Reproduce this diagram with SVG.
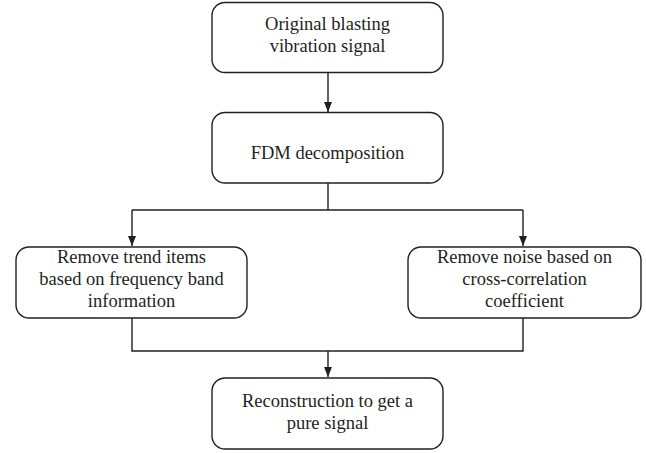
<svg xmlns="http://www.w3.org/2000/svg" width="646" height="453" viewBox="0 0 646 453">
<defs>
<marker id="arr" markerWidth="8" markerHeight="10" refX="4" refY="10" orient="auto-start-reverse" markerUnits="userSpaceOnUse" viewBox="0 0 8 10">
<path d="M0,0 L8,0 L4,10 Z" fill="#231f20" transform="rotate(0)"/>
</marker>
</defs>
<style>
.box{fill:#fff;stroke:#231f20;stroke-width:1.4}
.t{font-family:"Liberation Serif","Times New Roman",serif;font-size:18.5px;fill:#231f20;text-anchor:middle}
.c{fill:none;stroke:#231f20;stroke-width:1.4}
</style>
<rect width="646" height="453" fill="#fff"/>
<g id="connectors">
<line class="c" x1="328" y1="72" x2="328" y2="112"/>
<path d="M324,102 L332,102 L328,112 Z" fill="#231f20"/>
<polyline class="c" points="328,183 328,210"/>
<line class="c" x1="132" y1="210" x2="523" y2="210"/>
<line class="c" x1="132" y1="210" x2="132" y2="246"/>
<path d="M128,236 L136,236 L132,246 Z" fill="#231f20"/>
<line class="c" x1="523" y1="210" x2="523" y2="246"/>
<path d="M519,236 L527,236 L523,246 Z" fill="#231f20"/>
<polyline class="c" points="132,318 132,351 523,351 523,318"/>
<line class="c" x1="328" y1="351" x2="328" y2="377"/>
<path d="M324,367 L332,367 L328,377 Z" fill="#231f20"/>
</g>
<g id="n1">
<rect class="box" x="212" y="2.5" width="231" height="70" rx="13"/>
<text class="t" x="327.5" y="30">Original blasting</text>
<text class="t" x="327.5" y="52">vibration signal</text>
</g>
<g id="n2">
<rect class="box" x="212" y="112.5" width="231" height="70.5" rx="13"/>
<text class="t" x="327.5" y="159">FDM decomposition</text>
</g>
<g id="n3">
<rect class="box" x="16" y="247" width="231" height="71" rx="13"/>
<text class="t" x="131.5" y="263">Remove trend items</text>
<text class="t" x="131.5" y="285">based on frequency band</text>
<text class="t" x="131.5" y="307">information</text>
</g>
<g id="n4">
<rect class="box" x="408" y="247" width="233" height="71" rx="13"/>
<text class="t" x="524.5" y="263">Remove noise based on</text>
<text class="t" x="524.5" y="285">cross-correlation</text>
<text class="t" x="524.5" y="307">coefficient</text>
</g>
<g id="n5">
<rect class="box" x="212" y="378" width="231" height="71" rx="13"/>
<text class="t" x="327.5" y="407">Reconstruction to get a</text>
<text class="t" x="327.5" y="429">pure signal</text>
</g>
</svg>
